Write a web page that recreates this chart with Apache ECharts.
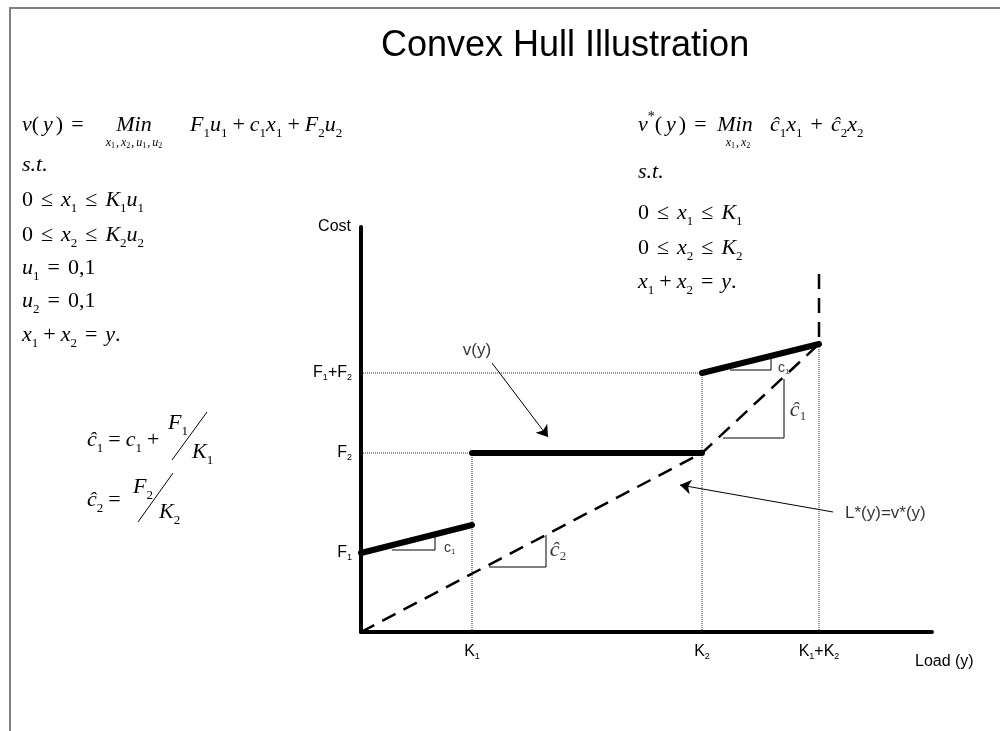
<!DOCTYPE html>
<html>
<head>
<meta charset="utf-8">
<title>Convex Hull Illustration</title>
<script src="https://cdn.jsdelivr.net/npm/echarts@6.0.0/dist/echarts.min.js"></script>
<style>
  html, body { margin: 0; padding: 0; background: #fff; }
  #chart { width: 1000px; height: 731px; }
</style>
</head>
<body>
<div id="chart"></div>
<script>
// ticks
const loadTicks = [1.11, 3.41, 4.58];
const loadTickNames = ['K{s|1}', 'K{s|2}', 'K{s|1}+K{s|2}'];
const costTicks = [0.79, 1.79, 2.59];
const costTickNames = ['F{s|1}', 'F{s|2}', 'F{s|1}+F{s|2}'];

// v(y) in three thick pieces
const vPiece1 = [[0, 0.79], [1.11, 1.07]];
const vPiece2 = [[1.11, 1.79], [3.41, 1.79]];
const vPiece3 = [[3.41, 2.59], [4.58, 2.88]];

// L*(y) = v*(y), dashed
const hull = [[0, 0], [3.41, 1.79], [4.58, 2.88], [4.58, 3.64]];

// dotted guides
const guides = [
  [[0, 2.59], [3.41, 2.59]],
  [[0, 1.79], [1.11, 1.79]],
  [[1.11, 0], [1.11, 1.79]],
  [[3.41, 0], [3.41, 2.59]],
  [[4.58, 0], [4.58, 2.88]]
];

// small slope triangles
const slopes = [
  [[0.31, 0.82], [0.74, 0.82], [0.74, 0.96]],
  [[3.69, 2.62], [4.10, 2.62], [4.10, 2.74]],
  [[3.62, 1.94], [4.23, 1.94], [4.23, 2.53]],
  [[1.28, 0.65], [1.85, 0.65], [1.85, 0.97]]
];

// arrows, from -> to
const arrows = [
  [[1.31, 2.69], [1.87, 1.95]],
  [[4.72, 1.20], [3.19, 1.47]]
];

// notes on the plot
const noteAt = [[1.16, 2.82], [4.84, 1.19], [0.83, 0.84], [4.17, 2.64], [4.37, 2.22], [1.97, 0.82]];
const noteText = ['v(y)', 'L*(y)=v*(y)', '{c|c}{cs|1}', '{c|c}{cs|1}', '{h|ĉ}{hs|1}', '{h|ĉ}{hs|2}'];
const noteSide = ['inside', 'right', 'right', 'right', 'inside', 'inside'];

const SANS = 'Liberation Sans';
const SERIF = 'Liberation Serif';

const chart = echarts.init(document.getElementById('chart'));

const tickRich = {
  s: { fontFamily: SANS, fontSize: 9, lineHeight: 9, verticalAlign: 'bottom', color: '#000' }
};
const labelStyle = { fontFamily: SANS, fontSize: 16, lineHeight: 18, color: '#000' };

function pickName(ticks, names, v) {
  const i = ticks.findIndex(t => Math.abs(t - v) < 1e-6);
  return i < 0 ? '' : names[i];
}

function lineSeries(data, lineStyle, z) {
  return { type: 'line', data, symbol: 'none', silent: true, lineStyle, z, animation: false };
}

const series = [];
guides.forEach(g => series.push(lineSeries(g, { color: '#333', width: 1, type: [1, 1] }, 2)));
slopes.forEach(s => series.push(lineSeries(s, { color: '#000', width: 1 }, 3)));
series.push(lineSeries(hull, { color: '#000', width: 2.5, type: [15, 9] }, 4));
[vPiece1, vPiece2, vPiece3].forEach(p => series.push(lineSeries(p, { color: '#000', width: 6, cap: 'round' }, 5)));

series.push({
  type: 'line',
  data: [],
  silent: true,
  markLine: {
    silent: true,
    animation: false,
    symbol: ['none', 'arrow'],
    symbolSize: 11,
    label: { show: false },
    lineStyle: { color: '#000', width: 1, type: 'solid' },
    data: arrows.map(a => [{ coord: a[0] }, { coord: a[1] }])
  }
});

series.push({
  type: 'scatter',
  symbolSize: 0,
  silent: true,
  z: 6,
  data: noteAt.map((p, i) => ({
    value: p,
    label: {
      show: true,
      position: noteSide[i],
      distance: 0,
      formatter: noteText[i],
      fontFamily: SANS,
      fontSize: 17,
      color: '#000',
      rich: {
        c: { fontFamily: SANS, fontSize: 14, lineHeight: 16, color: '#000' },
        cs: { fontFamily: SANS, fontSize: 8, lineHeight: 8, verticalAlign: 'bottom', color: '#000' },
        h: { fontFamily: SERIF, fontStyle: 'italic', fontSize: 22, lineHeight: 26, color: '#000' },
        hs: { fontFamily: SERIF, fontSize: 13, lineHeight: 13, verticalAlign: 'bottom', color: '#000' }
      }
    }
  }))
});

// formula text
const mathRich = {
  i: { fontFamily: SERIF, fontStyle: 'italic', fontSize: 22, lineHeight: 30, color: '#000' },
  iy: { fontFamily: SERIF, fontStyle: 'italic', fontSize: 22, lineHeight: 30, padding: [0, 3, 0, 4], color: '#000' },
  r: { fontFamily: SERIF, fontSize: 22, lineHeight: 30, color: '#000' },
  o: { fontFamily: SERIF, fontSize: 22, lineHeight: 30, padding: [0, 5], color: '#000' },
  w: { fontFamily: SERIF, fontSize: 22, lineHeight: 30, padding: [0, 8], color: '#000' },
  q: { fontFamily: SERIF, fontSize: 22, lineHeight: 30, padding: [0, 8], color: '#000' },
  s: { fontFamily: SERIF, fontSize: 13, lineHeight: 13, verticalAlign: 'bottom', color: '#000' },
  p: { fontFamily: SERIF, fontSize: 14, lineHeight: 14, verticalAlign: 'top', color: '#000' },
  mi: { fontFamily: SERIF, fontStyle: 'italic', fontSize: 12, lineHeight: 14, color: '#000' },
  ms: { fontFamily: SERIF, fontSize: 8, lineHeight: 8, verticalAlign: 'bottom', color: '#000' },
  mc: { fontFamily: SERIF, fontSize: 12, lineHeight: 14, padding: [0, 2, 0, 1], color: '#000' }
};

function mathText(x, y, text, align) {
  return {
    type: 'text', x, y, silent: true,
    style: { text, rich: mathRich, align: align || 'left', verticalAlign: 'middle' }
  };
}

const formulas = [
  mathText(22, 125, '{i|v}{r|(}{iy|y}{r|)}{q|=}'),
  mathText(134, 125, '{i|Min}', 'center'),
  mathText(134, 143, '{mi|x}{ms|1}{mc|,}{mi|x}{ms|2}{mc|,}{mi|u}{ms|1}{mc|,}{mi|u}{ms|2}', 'center'),
  mathText(190, 125, '{i|F}{s|1}{i|u}{s|1}{o|+}{i|c}{s|1}{i|x}{s|1}{o|+}{i|F}{s|2}{i|u}{s|2}'),
  mathText(22, 165, '{i|s.t.}'),
  mathText(22, 200, '{r|0}{q|≤}{i|x}{s|1}{q|≤}{i|K}{s|1}{i|u}{s|1}'),
  mathText(22, 235, '{r|0}{q|≤}{i|x}{s|2}{q|≤}{i|K}{s|2}{i|u}{s|2}'),
  mathText(22, 268, '{i|u}{s|1}{q|=}{r|0,1}'),
  mathText(22, 301, '{i|u}{s|2}{q|=}{r|0,1}'),
  mathText(22, 335, '{i|x}{s|1}{o|+}{i|x}{s|2}{q|=}{i|y}{r|.}'),

  mathText(638, 125, '{i|v}{p|*}{r|(}{iy|y}{r|)}{q|=}'),
  mathText(735, 125, '{i|Min}', 'center'),
  mathText(738, 143, '{mi|x}{ms|1}{mc|,}{mi|x}{ms|2}', 'center'),
  mathText(770, 125, '{i|ĉ}{s|1}{i|x}{s|1}{w|+}{i|ĉ}{s|2}{i|x}{s|2}'),
  mathText(638, 172, '{i|s.t.}'),
  mathText(638, 213, '{r|0}{q|≤}{i|x}{s|1}{q|≤}{i|K}{s|1}'),
  mathText(638, 248, '{r|0}{q|≤}{i|x}{s|2}{q|≤}{i|K}{s|2}'),
  mathText(638, 282, '{i|x}{s|1}{o|+}{i|x}{s|2}{q|=}{i|y}{r|.}'),

  mathText(87, 440, '{i|ĉ}{s|1}{o|=}{i|c}{s|1}{o|+}'),
  mathText(168, 423, '{i|F}{s|1}'),
  mathText(192, 452, '{i|K}{s|1}'),
  mathText(87, 500, '{i|ĉ}{s|2}{o|=}'),
  mathText(133, 487, '{i|F}{s|2}'),
  mathText(159, 512, '{i|K}{s|2}'),
  { type: 'line', silent: true, shape: { x1: 172, y1: 460, x2: 207, y2: 412 }, style: { stroke: '#000', lineWidth: 1 } },
  { type: 'line', silent: true, shape: { x1: 138, y1: 522, x2: 173, y2: 473 }, style: { stroke: '#000', lineWidth: 1 } },

  // page frame
  { type: 'polyline', silent: true, shape: { points: [[1002, 8], [10, 8], [10, 733]] }, style: { stroke: '#808080', lineWidth: 2, fill: null } }
];

chart.setOption({
  animation: false,
  backgroundColor: '#fff',
  title: {
    text: 'Convex Hull Illustration',
    left: 376,
    top: 23,
    textStyle: { fontFamily: SANS, fontSize: 36, fontWeight: 'normal', color: '#000' }
  },
  grid: { left: 361, right: 68, top: 227, bottom: 99, outerBoundsMode: 'none' },
  xAxis: {
    type: 'value',
    min: 0,
    max: 5.71,
    name: 'Load (y)',
    nameLocation: 'end',
    nameGap: -17,
    nameTextStyle: { fontFamily: SANS, fontSize: 16, color: '#000', align: 'left', verticalAlign: 'top', padding: [22, 0, 0, 0] },
    splitLine: { show: false },
    axisTick: { show: false },
    axisLine: { lineStyle: { color: '#000', width: 4 } },
    axisLabel: {
      customValues: loadTicks,
      margin: 11,
      ...labelStyle,
      rich: tickRich,
      formatter: v => pickName(loadTicks, loadTickNames, v)
    }
  },
  yAxis: {
    type: 'value',
    min: 0,
    max: 4.05,
    name: 'Cost',
    nameLocation: 'end',
    nameGap: 0,
    nameTextStyle: { fontFamily: SANS, fontSize: 16, color: '#000', align: 'right', verticalAlign: 'middle', padding: [0, 10, 0, 0] },
    splitLine: { show: false },
    axisTick: { show: false },
    axisLine: { show: true, lineStyle: { color: '#000', width: 4 } },
    axisLabel: {
      customValues: costTicks,
      margin: 9,
      ...labelStyle,
      rich: tickRich,
      formatter: v => pickName(costTicks, costTickNames, v)
    }
  },
  graphic: formulas,
  series
});
</script>
</body>
</html>
